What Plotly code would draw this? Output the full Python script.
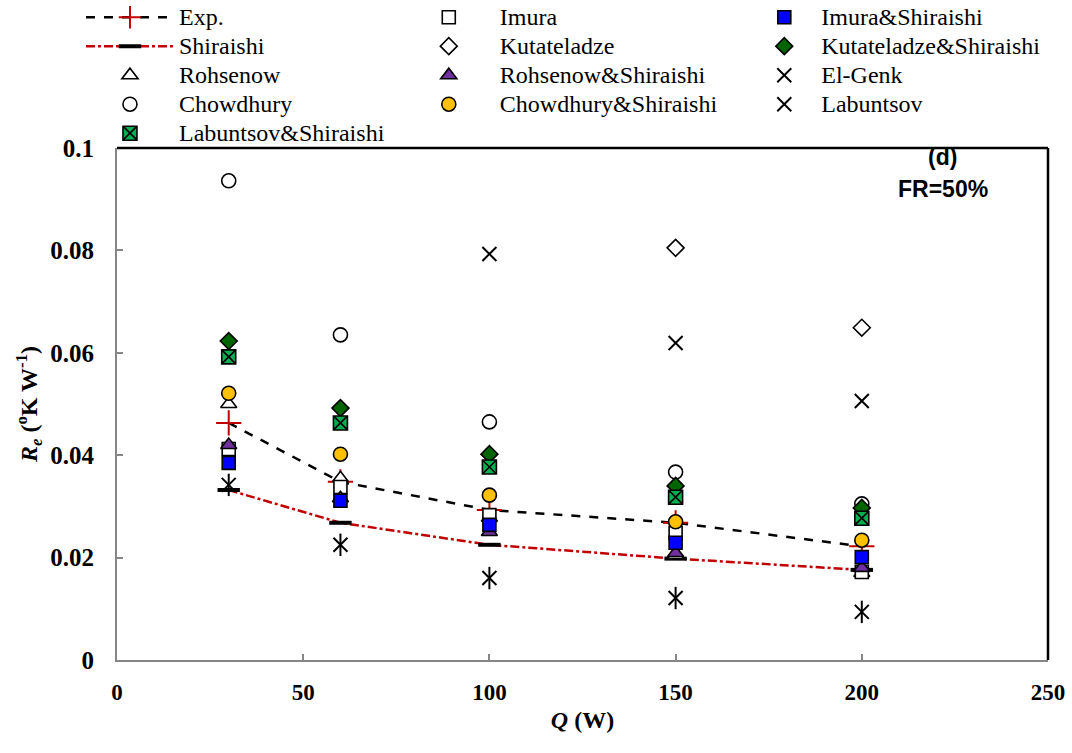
import plotly.graph_objects as go

# Heat input Q (W)
q = [30, 60, 100, 150, 200]

# Evaporator resistance Re (K/W) for each correlation, FR = 50 %
exp_vals = [0.0463, 0.0348, 0.0293, 0.0268, 0.0222]
imura = [0.0412, 0.0338, 0.0283, 0.0248, 0.0172]
imura_shir = [0.0385, 0.0311, 0.0264, 0.0229, 0.0201]
shiraishi = [0.0332, 0.0268, 0.0225, 0.0198, 0.0176]
kutateladze = [None, None, None, 0.0805, 0.0649]
kutateladze_shir = [0.0623, 0.0492, 0.0402, 0.0340, 0.0297]
rohsenow = [0.0500, 0.0355, 0.0278, 0.0205, 0.0170]
rohsenow_shir = [0.0420, 0.0316, 0.0250, 0.0209, 0.0180]
el_genk = [0.0342, 0.0225, 0.0160, 0.0121, 0.0094]
chowdhury = [0.0936, 0.0635, 0.0465, 0.0367, 0.0305]
chowdhury_shir = [0.0521, 0.0402, 0.0322, 0.0270, 0.0234]
labuntsov = [None, None, 0.0793, 0.0619, 0.0506]
labuntsov_shir = [0.0592, 0.0463, 0.0377, 0.0318, 0.0277]

BLACK = "#000000"
RED = "#C00000"
SERIF = "Liberation Serif"

fig = go.Figure()


def label(name):
    # legend rows stay tight (20 px base) while the label itself is larger
    return f"<span style='font-size:24px'>{name}</span>"


def pts(name, y, symbol, fill, legend, size=13, lw=1.6, lcolor=BLACK, show=True):
    fig.add_trace(go.Scatter(
        x=q, y=y, name=label(name), mode="markers", showlegend=show, legend=legend,
        marker=dict(symbol=symbol, size=size, color=fill,
                    line=dict(color=lcolor, width=lw)),
    ))


# first legend column
fig.add_trace(go.Scatter(
    x=q, y=exp_vals, name=label("Exp."), mode="lines+markers", legend="legend",
    line=dict(color=BLACK, width=2.5, dash="dash"),
    marker=dict(symbol="cross-thin-open", size=18, color=RED,
                line=dict(color=RED, width=2)),
))
fig.add_trace(go.Scatter(
    x=q, y=shiraishi, name=label("Shiraishi"), mode="lines+markers", legend="legend",
    line=dict(color=RED, width=2.5, dash="dashdot"),
    marker=dict(symbol="line-ew-open", size=16, color=BLACK,
                line=dict(color=BLACK, width=4)),
))
pts("Rohsenow", rohsenow, "triangle-up", "white", "legend", size=14)
pts("Chowdhury", chowdhury, "circle", "white", "legend", size=14)

# second legend column
pts("Imura", imura, "square", "white", "legend2")
pts("Kutateladze", kutateladze, "diamond", "white", "legend2", size=13)
pts("Rohsenow&Shiraishi", rohsenow_shir, "triangle-up", "#7030A0", "legend2", size=14)

# third legend column
pts("Imura&Shiraishi", imura_shir, "square", "#0000FF", "legend3")
pts("Kutateladze&Shiraishi", kutateladze_shir, "diamond", "#006400", "legend3", size=13)
pts("El-Genk", el_genk, "x-thin-open", BLACK, "legend3", size=14, lw=2)
pts("El-Genk", el_genk, "line-ns-open", BLACK, "legend3", size=16, lw=2, show=False)

pts("Chowdhury&Shiraishi", chowdhury_shir, "circle", "#FFC000", "legend2", size=14)
pts("Labuntsov", labuntsov, "x-thin-open", BLACK, "legend3", size=14, lw=2)
pts("Labuntsov&Shiraishi", labuntsov_shir, "square-x", "#00B050", "legend", size=14)

title_font = dict(family=SERIF, size=24, color=BLACK, weight="bold")

axis_common = dict(
    showline=True, linecolor="#868686", linewidth=2,
    ticks="inside", ticklen=6, tickcolor="#868686", tickwidth=1.5,
    showgrid=False, zeroline=False,
)

fig.update_xaxes(range=[0, 250], dtick=50, ticklabelstandoff=10,
                 tickfont=dict(family=SERIF, size=23, color=BLACK, weight="bold"),
                 title=dict(text="<i>Q</i> (W)", standoff=8, font=title_font),
                 **axis_common)
fig.update_yaxes(range=[0, 0.1], dtick=0.02, ticklabelstandoff=16,
                 tickfont=dict(family=SERIF, size=25, color=BLACK, weight="bold"),
                 title=dict(text="<i>R</i><sub><i>e</i></sub> (<sup>o</sup>K W<sup>-1</sup>)",
                            standoff=6, font=title_font),
                 **axis_common)

# black frame on top and right edges of the plot area
fig.add_shape(type="line", xref="paper", yref="paper", x0=0, x1=1, y0=1, y1=1,
              line=dict(color=BLACK, width=2.5))
fig.add_shape(type="line", xref="paper", yref="paper", x0=1, x1=1, y0=0, y1=1,
              line=dict(color=BLACK, width=2.5))

label_font = dict(family="Liberation Sans", size=23, color=BLACK, weight="bold")
fig.add_annotation(text="(d)", xref="paper", yref="paper", x=0.887, y=0.982,
                   xanchor="center", yanchor="middle", showarrow=False, font=label_font)
fig.add_annotation(text="FR=50%", xref="paper", yref="paper", x=0.887, y=0.920,
                   xanchor="center", yanchor="middle", showarrow=False, font=label_font)

legend_font = dict(family=SERIF, size=20, color=BLACK)
legend_common = dict(orientation="v", yanchor="top", y=1.2936, xanchor="left",
                     font=legend_font, bgcolor="rgba(0,0,0,0)", traceorder="normal",
                     tracegroupgap=0)

fig.update_layout(
    width=1072, height=753,
    margin=dict(l=117, r=24, t=148, b=93, autoexpand=False),
    paper_bgcolor="white", plot_bgcolor="white",
    showlegend=True,
    legend=dict(x=-0.0387, itemwidth=88, **legend_common),
    legend2=dict(x=0.3016, itemwidth=92, **legend_common),
    legend3=dict(x=0.677, itemwidth=64, **legend_common),
)

fig.write_html("out.html")
